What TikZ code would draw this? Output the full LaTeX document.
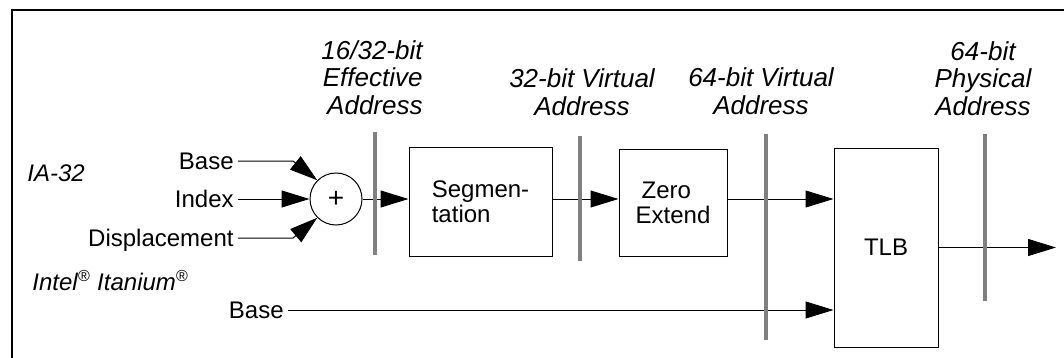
\documentclass[tikz,border=0pt]{standalone}
\usepackage{fontspec}
\setmainfont{Liberation Sans}
\usetikzlibrary{arrows.meta, positioning}

\begin{document}
\begin{tikzpicture}[x=0.5pt, y=-0.5pt,
        txt/.style={font=\fontsize{12}{13}\selectfont, inner sep=2pt, text depth=0pt},
        lbl/.style={font=\fontsize{13}{13.8}\selectfont\itshape, inner sep=0pt},
        box/.style={draw, line width=0.5pt, inner sep=0pt, font=\fontsize{12}{12.5}\selectfont},
        arr/.style={line width=0.5pt, -{Triangle[length=14pt, width=8.5pt]}},
        bar/.style={line width=2pt, gray}]
        \useasboundingbox (0,0) rectangle (1064,358);
        % frame
        \draw[line width=0.6pt] (12,358) -- (12,10) -- (1064,10);

        % --- IA-32 inputs ---
        \node[font=\fontsize{12}{13}\selectfont\itshape, anchor=base west, inner sep=0pt] (ia) at (27,181) {IA-32};
        \node[txt, anchor=east] (base) at (238,161) {Base};
        \node[txt, anchor=east] (index) at (238,199) {Index};
        \node[txt, anchor=east] (disp) at (238,238) {Displacement};
        \node[draw, circle, line width=0.5pt, minimum size=26pt, inner sep=0pt, font=\fontsize{14}{14}\selectfont] (sum) at (336,199) {+};
        \coordinate (bb) at (293,161);
        \coordinate (bd) at (293,238);
        \draw[arr] (base.east) -- (bb) -- (sum.135);
        \draw[arr] (index.east) -- (sum.west);
        \draw[arr] (disp.east) -- (bd) -- (sum.225);

        % --- Itanium input ---
        \node[font=\fontsize{12}{13}\selectfont\itshape, anchor=base west, inner sep=0pt] (ipf) at (32,290)
            {Intel\textsuperscript{\textregistered} Itanium\textsuperscript{\textregistered}};
        \node[txt, anchor=east] (bbase) at (288,310) {Base};

        % --- translation stages ---
        \node[box, minimum width=71.5pt, minimum height=54.5pt, align=left] (seg) at (480.5,201.5) {Segmen-\\tation};
        \node[box, minimum width=54pt, minimum height=53.5pt, align=left] (zext) at (673,202.5) {\hspace{3pt}Zero\\Extend\hspace{9pt}};
        \node[box, minimum width=52pt, minimum height=99.5pt] (tlb) at (886,247.5) {TLB};
        \coordinate (out) at (1056,248);

        \draw[arr] (sum.east) -- (sum.east -| seg.west);
        \draw[arr] (seg.east |- sum) -- (zext.west |- sum);
        \draw[arr] (zext.east |- sum) -- (tlb.west |- sum);
        \draw[arr] (bbase.east) -- (bbase.east -| tlb.west);
        \draw[arr] (tlb.east) -- (out |- tlb.east);

        % --- address labels ---
        \node[lbl, anchor=south east, align=right] (lea) at (423,115) {16/32-bit\\Effective\\Address};
        \node[lbl, anchor=south, align=center] (lva) at (582,116) {32-bit Virtual\\Address};
        \node[lbl, anchor=south, align=center] (lvb) at (761,115) {64-bit Virtual\\Address};
        \node[lbl, anchor=south, align=center] (lpa) at (983,116) {64-bit\\Physical\\Address};
        \foreach \x/\a/\b in {375/132/255, 580/136/261, 766/134/340, 985/134/301}
            \draw[bar] (\x,\a) -- (\x,\b);
\end{tikzpicture}
\end{document}
